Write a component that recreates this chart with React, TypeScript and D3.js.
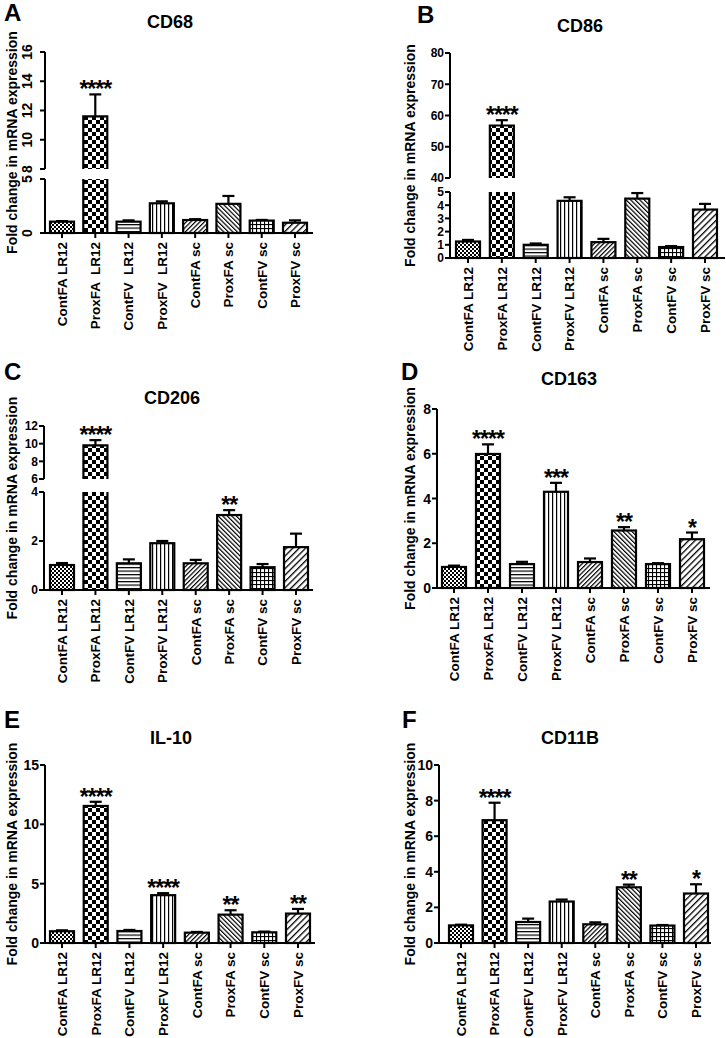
import React from 'react';
import * as d3 from 'd3';

const categories = ["ContFA LR12", "ProxFA LR12", "ContFV LR12", "ProxFV LR12", "ContFA sc", "ProxFA sc", "ContFV sc", "ProxFV sc"];
const categoriesA = ["ContFA LR12", "ProxFA  LR12", "ContFV  LR12", "ProxFV  LR12", "ContFA sc", "ProxFA sc", "ContFV sc", "ProxFV sc"];

const cd68Mean = [1.05, 11.6, 1.05, 2.75, 1.2, 2.7, 1.15, 0.95];
const cd68Sem = [0.05, 1.5, 0.12, 0.18, 0.08, 0.73, 0.06, 0.22];
const cd68Sig = ["", "****", "", "", "", "", "", ""];
const cd68LowTicks = [0, 5];
const cd68UpTicks = [8, 10, 12, 14, 16];

const cd86Mean = [1.25, 56.8, 1.0, 4.33, 1.2, 4.5, 0.83, 3.67];
const cd86Sem = [0.12, 1.7, 0.1, 0.27, 0.25, 0.42, 0.07, 0.43];
const cd86Sig = ["", "****", "", "", "", "", "", ""];
const cd86LowTicks = [0, 1, 2, 3, 4, 5];
const cd86UpTicks = [40, 50, 60, 70, 80];

const cd206Mean = [1.02, 9.8, 1.09, 1.91, 1.09, 3.06, 0.93, 1.75];
const cd206Sem = [0.08, 0.6, 0.16, 0.09, 0.14, 0.2, 0.13, 0.55];
const cd206Sig = ["", "****", "", "", "", "**", "", ""];
const cd206LowTicks = [0, 2, 4];
const cd206UpTicks = [6, 8, 10, 12];

const cd163Mean = [0.94, 5.99, 1.07, 4.3, 1.16, 2.57, 1.07, 2.18];
const cd163Sem = [0.06, 0.43, 0.1, 0.4, 0.16, 0.15, 0.04, 0.3];
const cd163Sig = ["", "****", "", "***", "", "**", "", "*"];
const cd163Ticks = [0, 2, 4, 6, 8];

const il10Mean = [0.99, 11.55, 1.01, 4.03, 0.87, 2.39, 0.9, 2.48];
const il10Sem = [0.08, 0.35, 0.09, 0.17, 0.06, 0.37, 0.06, 0.39];
const il10Sig = ["", "****", "", "****", "", "**", "", "**"];
const il10Ticks = [0, 5, 10, 15];

const cd11bMean = [0.99, 6.9, 1.18, 2.33, 1.05, 3.13, 0.98, 2.78];
const cd11bSem = [0.04, 0.98, 0.19, 0.11, 0.11, 0.15, 0.03, 0.52];
const cd11bSig = ["", "****", "", "", "", "**", "", "*"];
const cd11bTicks = [0, 2, 4, 6, 8, 10];

const patternIds = ["pFineCheck", "pCheck", "pHoriz", "pVert", "pDiagA", "pDiagB", "pGrid", "pDiagC"];
const FONT = "'Liberation Sans', Arial, Helvetica, sans-serif";
const YLABEL = "Fold change in mRNA expression";

type Panel = {
  letter: string; letterPos: [number, number];
  title: string; titlePos: [number, number];
  labels: string[];
  mean: number[]; sem: number[]; sig: string[];
  axisX: number; axisEnd: number; centers: [number, number];
  lowDomain: [number, number]; lowRange: [number, number]; lowTicks: number[];
  upDomain?: [number, number]; upRange?: [number, number]; upTicks?: number[];
  rotateTicks?: boolean; ylabelX: number; tickFont: number;
};

const panels: Panel[] = [
  { letter: "A", letterPos: [4, 21], title: "CD68", titlePos: [170, 28], labels: categoriesA,
    mean: cd68Mean, sem: cd68Sem, sig: cd68Sig, axisX: 45, axisEnd: 313, centers: [62, 295],
    lowDomain: [0, 5], lowRange: [233, 179], lowTicks: cd68LowTicks,
    upDomain: [8, 16], upRange: [169, 52], upTicks: cd68UpTicks, rotateTicks: true, ylabelX: 12, tickFont: 14 },
  { letter: "B", letterPos: [417, 23], title: "CD86", titlePos: [580, 32], labels: categories,
    mean: cd86Mean, sem: cd86Sem, sig: cd86Sig, axisX: 450, axisEnd: 725, centers: [468, 705],
    lowDomain: [0, 5], lowRange: [258, 192], lowTicks: cd86LowTicks,
    upDomain: [40, 80], upRange: [178, 53], upTicks: cd86UpTicks, ylabelX: 410, tickFont: 12 },
  { letter: "C", letterPos: [4, 380], title: "CD206", titlePos: [172, 404], labels: categories,
    mean: cd206Mean, sem: cd206Sem, sig: cd206Sig, axisX: 44, axisEnd: 313, centers: [62, 296],
    lowDomain: [0, 4], lowRange: [590, 492], lowTicks: cd206LowTicks,
    upDomain: [6, 12], upRange: [479, 426], upTicks: cd206UpTicks, ylabelX: 12, tickFont: 12 },
  { letter: "D", letterPos: [401, 380], title: "CD163", titlePos: [569, 385], labels: categories,
    mean: cd163Mean, sem: cd163Sem, sig: cd163Sig, axisX: 437, axisEnd: 710, centers: [454, 692],
    lowDomain: [0, 8], lowRange: [588, 409], lowTicks: cd163Ticks, ylabelX: 410, tickFont: 14 },
  { letter: "E", letterPos: [4, 728], title: "IL-10", titlePos: [171, 744], labels: categories,
    mean: il10Mean, sem: il10Sem, sig: il10Sig, axisX: 45, axisEnd: 315, centers: [62, 298],
    lowDomain: [0, 15], lowRange: [943, 765], lowTicks: il10Ticks, ylabelX: 12, tickFont: 14 },
  { letter: "F", letterPos: [402, 728], title: "CD11B", titlePos: [570, 744], labels: categories,
    mean: cd11bMean, sem: cd11bSem, sig: cd11bSig, axisX: 439, axisEnd: 711, centers: [461, 696],
    lowDomain: [0, 10], lowRange: [943, 765], lowTicks: cd11bTicks, ylabelX: 410, tickFont: 14 },
];

function Patterns() {
  return (
    <defs>
      <pattern id="pFineCheck" patternUnits="userSpaceOnUse" width={4} height={4}>
        <rect width={4} height={4} fill="#fff" />
        <rect x={0} y={0} width={2} height={2} fill="#000" />
        <rect x={2} y={2} width={2} height={2} fill="#000" />
      </pattern>
      <pattern id="pCheck" patternUnits="userSpaceOnUse" width={8} height={8}>
        <rect width={8} height={8} fill="#fff" />
        <rect x={0} y={0} width={4} height={4} fill="#000" />
        <rect x={4} y={4} width={4} height={4} fill="#000" />
      </pattern>
      <pattern id="pHoriz" patternUnits="userSpaceOnUse" width={4} height={3.5}>
        <rect width={4} height={3.5} fill="#fff" />
        <rect x={0} y={0} width={4} height={1.2} fill="#000" />
      </pattern>
      <pattern id="pVert" patternUnits="userSpaceOnUse" width={4} height={4}>
        <rect width={4} height={4} fill="#fff" />
        <rect x={0} y={0} width={1.2} height={4} fill="#000" />
      </pattern>
      <pattern id="pDiagA" patternUnits="userSpaceOnUse" width={3.2} height={10} patternTransform="rotate(45)">
        <rect width={3.2} height={10} fill="#fff" />
        <rect x={0} y={0} width={1.2} height={10} fill="#000" />
      </pattern>
      <pattern id="pDiagB" patternUnits="userSpaceOnUse" width={3.2} height={10} patternTransform="rotate(-45)">
        <rect width={3.2} height={10} fill="#fff" />
        <rect x={0} y={0} width={1.2} height={10} fill="#000" />
      </pattern>
      <pattern id="pGrid" patternUnits="userSpaceOnUse" width={4} height={4}>
        <rect width={4} height={4} fill="#fff" />
        <rect x={0} y={0} width={4} height={1.1} fill="#000" />
        <rect x={0} y={0} width={1.1} height={4} fill="#000" />
      </pattern>
      <pattern id="pDiagC" patternUnits="userSpaceOnUse" width={4.5} height={10} patternTransform="rotate(45)">
        <rect width={4.5} height={10} fill="#fff" />
        <rect x={0} y={0} width={1.3} height={10} fill="#000" />
      </pattern>
    </defs>
  );
}

function BarPanel({ p }: { p: Panel }) {
  const idx = d3.range(p.mean.length);
  const x = d3.scalePoint<number>().domain(idx).range(p.centers);
  const low = d3.scaleLinear().domain(p.lowDomain).range(p.lowRange);
  const up = p.upDomain && p.upRange ? d3.scaleLinear().domain(p.upDomain).range(p.upRange) : null;
  const lowMax = p.lowDomain[1];
  const y = (v: number) => (up && v > lowMax ? up(v) : low(v));
  const y0 = low(0);
  const bw = 24;
  const sw = 2.2;
  const axisTop = up ? up(p.upDomain![1]) : low(lowMax);
  const cy = (y0 + axisTop) / 2;

  const tickLabel = (v: number, yy: number, key: string) =>
    p.rotateTicks ? (
      <text key={key} transform={`translate(${p.axisX - 13},${yy}) rotate(-90)`} textAnchor="middle"
        fontSize={p.tickFont} fontWeight="bold" fontFamily={FONT}>{v}</text>
    ) : (
      <text key={key} x={p.axisX - 6} y={yy} dy="0.36em" textAnchor="end"
        fontSize={p.tickFont} fontWeight="bold" fontFamily={FONT}>{v}</text>
    );

  return (
    <g>
      <text x={p.letterPos[0]} y={p.letterPos[1]} fontSize={24} fontWeight="bold" fontFamily={FONT}>{p.letter}</text>
      <text x={p.titlePos[0]} y={p.titlePos[1]} textAnchor="middle" fontSize={18} fontWeight="bold" fontFamily={FONT}>{p.title}</text>
      <text transform={`translate(${p.ylabelX},${cy}) rotate(-90)`} dy="0.36em" textAnchor="middle"
        fontSize={14} fontWeight="bold" fontFamily={FONT}>{YLABEL}</text>

      {/* bars */}
      {idx.map(i => {
        const cx = x(i)!;
        const m = p.mean[i];
        const left = cx - bw / 2, right = cx + bw / 2;
        const fill = `url(#${patternIds[i]})`;
        if (up && m > lowMax) {
          const lt = low(lowMax);
          const ub = up(p.upDomain![0]);
          const ut = up(m);
          return (
            <g key={i}>
              <rect x={left} y={lt} width={bw} height={y0 - lt} fill={fill} />
              <rect x={left} y={ut} width={bw} height={ub - ut} fill={fill} />
              <path d={`M${left},${lt}V${y0}H${right}V${lt}`} fill="none" stroke="#000" strokeWidth={sw} />
              <path d={`M${left},${ub}V${ut}H${right}V${ub}`} fill="none" stroke="#000" strokeWidth={sw} />
            </g>
          );
        }
        const t = y(m);
        return <rect key={i} x={left} y={t} width={bw} height={y0 - t} fill={fill} stroke="#000" strokeWidth={sw} />;
      })}

      {/* error bars */}
      {idx.map(i => {
        const cx = x(i)!;
        const t = y(p.mean[i]);
        const e = y(p.mean[i] + p.sem[i]);
        return (
          <g key={`e${i}`} stroke="#000" strokeWidth={2.2}>
            <line x1={cx} x2={cx} y1={t} y2={e} />
            <line x1={cx - 6} x2={cx + 6} y1={e} y2={e} />
          </g>
        );
      })}

      {/* significance */}
      {idx.map(i => p.sig[i] ? (
        <text key={`s${i}`} x={x(i)!} y={y(p.mean[i] + p.sem[i]) + 3} textAnchor="middle"
          fontSize={23} letterSpacing={-1} fontWeight="bold" fontFamily={FONT}>{p.sig[i]}</text>
      ) : null)}

      {/* y axis */}
      <g stroke="#000" strokeWidth={2}>
        <line x1={p.axisX} x2={p.axisX} y1={y0 + 1} y2={low(lowMax)} />
        {p.lowTicks.map(v => <line key={`lt${v}`} x1={p.axisX - 5} x2={p.axisX} y1={low(v)} y2={low(v)} />)}
        {up && <line x1={p.axisX} x2={p.axisX} y1={up(p.upDomain![0])} y2={up(p.upDomain![1])} />}
        {up && p.upTicks!.map(v => <line key={`ut${v}`} x1={p.axisX - 5} x2={p.axisX} y1={up(v)} y2={up(v)} />)}
      </g>
      {p.lowTicks.map(v => tickLabel(v, low(v), `ll${v}`))}
      {up && p.upTicks!.map(v => tickLabel(v, up(v), `ul${v}`))}

      {/* x axis */}
      <g stroke="#000" strokeWidth={2}>
        <line x1={p.axisX - 1} x2={p.axisEnd} y1={y0} y2={y0} />
        {idx.map(i => <line key={`xt${i}`} x1={x(i)!} x2={x(i)!} y1={y0} y2={y0 + 5} />)}
      </g>
      {idx.map(i => (
        <text key={`xl${i}`} transform={`translate(${x(i)!},${y0 + 9}) rotate(-90)`} dy="0.36em" textAnchor="end"
          fontSize={13.5} fontWeight="bold" fontFamily={FONT} style={{ whiteSpace: 'pre' }}>{p.labels[i]}</text>
      ))}
    </g>
  );
}

export default function App() {
  return (
    <svg width={726} height={1038} viewBox="0 0 726 1038"
      style={{ position: 'absolute', left: 0, top: 0, background: '#fff' }}>
      <rect width={726} height={1038} fill="#fff" />
      <Patterns />
      {panels.map(p => <BarPanel key={p.letter} p={p} />)}
    </svg>
  );
}
